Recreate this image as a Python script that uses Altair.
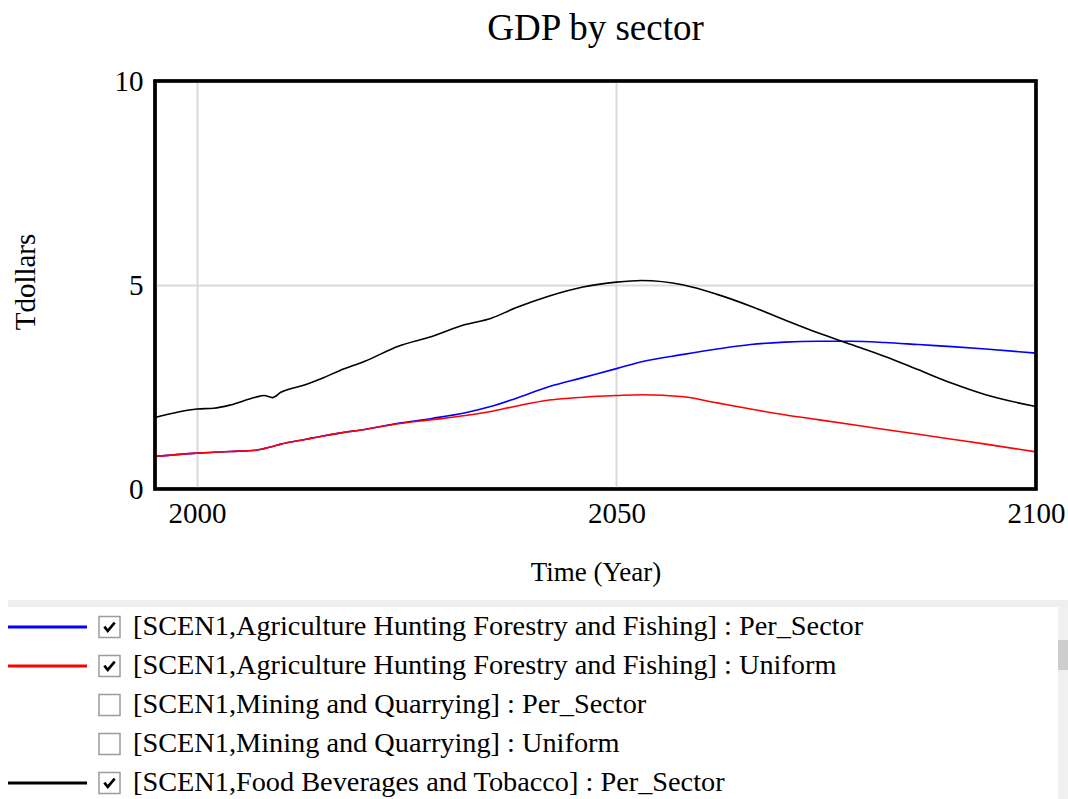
import altair as alt
import pandas as pd

# ---- series values (Tdollars) ----
years = [1995, 2000, 2002, 2004, 2007, 2008, 2009, 2010, 2013, 2015, 2017, 2020,
         2024, 2028, 2032, 2035, 2038, 2042, 2046, 2050, 2053, 2058, 2062, 2066,
         2070, 2074, 2078, 2082, 2086, 2090, 2094, 2100]

agri_per_sector = [0.80, 0.88, 0.90, 0.92, 0.95, 0.99, 1.04, 1.10, 1.22, 1.30, 1.37, 1.46,
                   1.61, 1.73, 1.87, 2.02, 2.22, 2.51, 2.73, 2.95, 3.12, 3.30, 3.43, 3.54,
                   3.60, 3.62, 3.62, 3.59, 3.54, 3.49, 3.43, 3.33]

agri_uniform = [0.80, 0.88, 0.90, 0.92, 0.95, 0.99, 1.04, 1.10, 1.22, 1.30, 1.37, 1.46,
                1.60, 1.70, 1.80, 1.90, 2.03, 2.18, 2.25, 2.29, 2.31, 2.26, 2.11, 1.96,
                1.82, 1.70, 1.58, 1.46, 1.34, 1.22, 1.10, 0.91]

food_per_sector = [1.75, 1.96, 1.98, 2.06, 2.25, 2.29, 2.24, 2.37, 2.56, 2.72, 2.90, 3.13,
                   3.50, 3.74, 4.03, 4.18, 4.44, 4.73, 4.95, 5.07, 5.11, 5.00, 4.77, 4.48,
                   4.15, 3.83, 3.54, 3.25, 2.92, 2.59, 2.31, 2.02]

# ---- legend entries ----
legend_labels = [
    "[SCEN1,Agriculture Hunting Forestry and Fishing] : Per_Sector",
    "[SCEN1,Agriculture Hunting Forestry and Fishing] : Uniform",
    "[SCEN1,Mining and Quarrying] : Per_Sector",
    "[SCEN1,Mining and Quarrying] : Uniform",
    "[SCEN1,Food Beverages and Tobacco] : Per_Sector",
]
legend_checked = [True, True, False, False, True]

x_ticks = [2000, 2050, 2100]
y_ticks = [0, 5, 10]

FONT = "Liberation Serif"
BLUE, RED, BLACK = "#0000ff", "#ff0000", "#000000"

rows = []
for label, vals in [(legend_labels[0], agri_per_sector),
                    (legend_labels[1], agri_uniform),
                    (legend_labels[4], food_per_sector)]:
    for yr, v in zip(years, vals):
        rows.append({"year": yr, "value": v, "series": label})
lines_df = pd.DataFrame(rows)

legend_df = pd.DataFrame({
    "row": list(range(len(legend_labels))),
    "series": legend_labels,
    "checked": legend_checked,
})

color_scale = alt.Scale(domain=[legend_labels[0], legend_labels[1], legend_labels[4]],
                        range=[BLUE, RED, BLACK])

x_enc = alt.X("year:Q",
              scale=alt.Scale(domain=[1995, 2100], nice=False, zero=False),
              axis=alt.Axis(values=x_ticks, format="d", title="Time (Year)",
                            titleX=440.5, titleY=91, titleBaseline="alphabetic",
                            titleAlign="center"))
y_enc = alt.Y("value:Q",
              scale=alt.Scale(domain=[0, 10], nice=False),
              axis=alt.Axis(values=y_ticks, title="Tdollars",
                            titleX=-121, titleY=200.5, titleAngle=270,
                            titleBaseline="alphabetic", titleAlign="center"))


def series_line(label):
    return alt.Chart(lines_df).transform_filter(
        alt.datum.series == label
    ).mark_line(strokeWidth=1.6, interpolate="monotone").encode(
        x=x_enc, y=y_enc,
        color=alt.Color("series:N", scale=color_scale, legend=None),
    )


blank = alt.Data(values=[{}])

# black frame drawn above the gridlines
frame = alt.Chart(blank).mark_rect(
    fill=None, stroke="#000000", strokeWidth=3.5
).encode(x=alt.value(0), x2=alt.value("width"), y=alt.value(0), y2=alt.value("height"))

plot = alt.layer(series_line(legend_labels[0]),
                 series_line(legend_labels[1]),
                 series_line(legend_labels[4]),
                 frame)

# ---- legend list below the plot ----
row_y = alt.Y("row:Q", scale=alt.Scale(domain=[0, 4], range=[546, 702]), axis=None)

panel_band = alt.Chart(blank).mark_rect(color="#efefef").encode(
    x=alt.value(-147), x2=alt.value(913), y=alt.value(519), y2=alt.value(526))
scroll_track = alt.Chart(blank).mark_rect(color="#f0f0f0").encode(
    x=alt.value(903), x2=alt.value(913), y=alt.value(526), y2=alt.value(718))
scroll_thumb = alt.Chart(blank).mark_rect(color="#cdcdcd").encode(
    x=alt.value(903), x2=alt.value(913), y=alt.value(559), y2=alt.value(589))

swatches = alt.Chart(legend_df).transform_filter(
    alt.datum.checked
).mark_rule(strokeWidth=3).encode(
    x=alt.value(-147), x2=alt.value(-68), y=row_y,
    color=alt.Color("series:N", scale=color_scale, legend=None),
)

boxes = alt.Chart(legend_df).mark_square(
    size=441, fill="white", stroke="#9c9c9c", strokeWidth=1.5, opacity=1
).encode(x=alt.value(-45.5), y=row_y)

checks = alt.Chart(legend_df).transform_filter(
    alt.datum.checked
).mark_point(
    shape="M -0.6 -0.05 L -0.2 0.45 L 0.6 -0.5", size=300,
    filled=False, stroke="#000000", strokeWidth=2.6, opacity=1
).encode(x=alt.value(-45.5), y=row_y)

texts = alt.Chart(legend_df).mark_text(
    align="left", baseline="middle", font=FONT, fontSize=28.3, color="#000000"
).encode(x=alt.value(-22), y=row_y, text="series:N")

legend_layer = alt.layer(panel_band, scroll_track, scroll_thumb,
                         swatches, boxes, checks, texts)

chart = alt.layer(plot, legend_layer).resolve_scale(y="independent").properties(
    width=881,
    height=408,
    background="white",
    title=alt.TitleParams("GDP by sector", font=FONT, fontSize=37,
                          fontWeight="normal", color="#000000",
                          anchor="middle", offset=19),
    autosize=alt.AutoSizeParams(type="none"),
    padding={"left": 155, "top": 81, "right": 32, "bottom": 310},
).configure_view(
    stroke="#000000", strokeWidth=3
).configure_axis(
    labelFont=FONT, labelFontSize=29, labelColor="#000000",
    titleFont=FONT, titleFontSize=28, titleFontWeight="normal", titleColor="#000000",
    ticks=False, domain=False, grid=True, gridColor="#d9d9d9", gridWidth=2,
    labelFlush=False, labelOverlap=False,
).configure_axisX(
    labelPadding=10, titleFontSize=27,
).configure_axisY(
    labelPadding=12, titleFontSize=29,
)

chart.save("out.html", embed_options={"renderer": "svg", "actions": False})
